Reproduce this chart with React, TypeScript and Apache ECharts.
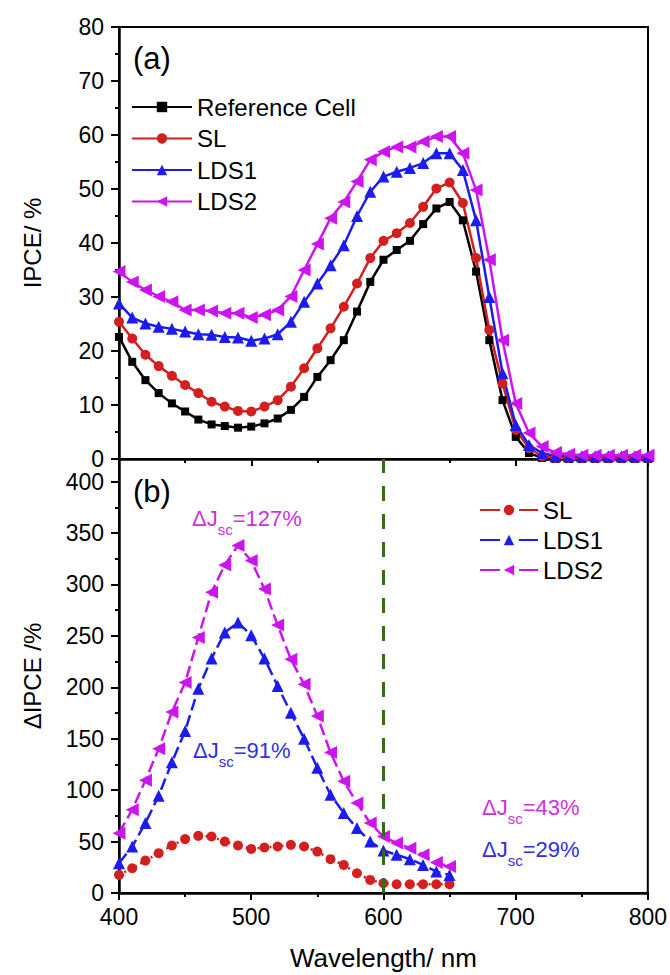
import React, { useEffect, useRef } from "react";
import * as echarts from "echarts";

const wlA = [400, 410, 420, 430, 440, 450, 460, 470, 480, 490, 500, 510, 520, 530, 540, 550, 560, 570, 580, 590, 600, 610, 620, 630, 640, 650, 660, 670, 680, 690, 700, 710, 720, 730, 740, 750, 760, 770, 780, 790, 800];
const refCell = [22.6, 18.0, 14.6, 12.2, 10.3, 8.8, 7.3, 6.4, 6.1, 5.8, 6.0, 6.6, 7.5, 9.1, 11.5, 15.2, 18.3, 22.0, 27.3, 32.8, 36.9, 38.7, 40.4, 43.5, 46.4, 47.6, 44.2, 34.7, 22.0, 10.9, 4.1, 1.1, 0.2, 0, 0, 0, 0, 0, 0, 0, 0];
const slA = [25.4, 22.3, 19.3, 17.2, 15.4, 13.7, 12.2, 10.6, 9.7, 8.9, 8.8, 9.7, 10.9, 13.4, 16.8, 20.5, 24.2, 28.2, 32.5, 37.2, 40.4, 41.8, 43.7, 46.7, 50.1, 51.2, 47.4, 37.2, 23.9, 14.0, 5.4, 2.0, 0.5, 0.2, 0.2, 0.2, 0.2, 0.2, 0.2, 0.2, 0.2];
const lds1A = [28.8, 26.2, 25.1, 24.5, 24.1, 23.6, 23.1, 23.0, 22.6, 22.5, 21.9, 22.3, 23.1, 25.4, 29.1, 32.5, 35.9, 39.6, 45.0, 49.5, 52.3, 53.2, 53.9, 54.8, 56.6, 56.6, 53.5, 44.2, 30.0, 15.9, 6.3, 2.6, 1.1, 0.5, 0.5, 0.5, 0.5, 0.5, 0.5, 0.5, 0.5];
const lds2A = [34.7, 32.8, 31.3, 30.1, 29.1, 27.6, 27.6, 27.4, 27.0, 27.0, 26.2, 26.7, 27.6, 30.1, 35.0, 39.8, 44.6, 47.6, 51.4, 55.4, 56.9, 57.8, 57.8, 58.8, 59.7, 59.7, 56.6, 49.8, 36.9, 22.0, 10.3, 4.8, 2.3, 1.2, 0.9, 0.7, 0.7, 0.7, 0.7, 0.7, 0.7];

const wlB = [400, 410, 420, 430, 440, 450, 460, 470, 480, 490, 500, 510, 520, 530, 540, 550, 560, 570, 580, 590, 600, 610, 620, 630, 640, 650];
const dSL = [17.6, 24.1, 31.5, 38.7, 46.2, 52.4, 55.6, 54.9, 50.0, 46.2, 42.9, 44.2, 45.2, 46.8, 45.2, 40.3, 32.9, 27.3, 19.2, 12.7, 9.5, 8.5, 8.5, 8.5, 8.5, 8.5];
const dLDS1 = [29.0, 45.2, 68.0, 94.6, 127.1, 157.4, 198.7, 228.0, 253.4, 263.1, 250.7, 228.0, 201.3, 175.3, 150.0, 121.7, 95.6, 77.8, 63.1, 50.0, 41.3, 37.1, 32.9, 27.3, 20.8, 17.6];
const dLDS2 = [58.2, 81.0, 109.6, 140.2, 175.9, 204.6, 248.5, 292.4, 319.0, 337.9, 323.2, 295.6, 260.5, 227.3, 202.9, 172.2, 136.6, 108.6, 87.5, 68.0, 54.9, 48.5, 43.6, 37.1, 29.6, 25.7];

const seriesNamesA = ["Reference Cell", "SL", "LDS1", "LDS2"];
const seriesNamesB = ["SL", "LDS1", "LDS2"];
const jscLabels = ["127%", "91%", "43%", "29%"];
const markWavelength = 600;

const FONT = "'Liberation Sans', Arial, sans-serif";
const C_BLACK = "#000000";
const C_RED = "#d21f1f";
const C_BLUE = "#1c1cf0";
const C_MAG = "#cc14ee";

const pair = (xs: number[], ys: number[]) => xs.map((x, i) => [x, ys[i]]);

function jscText(x: number, baseline: number, value: string, color: string) {
  return {
    type: "text",
    x,
    y: baseline - 19,
    silent: true,
    style: {
      text: `{m|ΔJ}{s|sc}{m|=${value}}`,
      verticalAlign: "top",
      align: "left",
      fill: color,
      rich: {
        m: { fontSize: 22, fontFamily: FONT, fill: color, lineHeight: 22, verticalAlign: "top" },
        s: { fontSize: 15, fontFamily: FONT, fill: color, lineHeight: 30, verticalAlign: "bottom" },
      },
    },
  };
}

export default function App() {
  const ref = useRef<HTMLDivElement>(null);
  useEffect(() => {
    if (!ref.current) return;
    const chart = echarts.init(ref.current, undefined, { renderer: "svg" });
    const axisLine = { show: true, lineStyle: { color: "#000", width: 2.5 } };
    const tickStyle = { color: "#000", width: 2 };
    const xAxisCommon = {
      type: "value",
      min: 400,
      max: 800,
      interval: 100,
      axisLine,
      axisTick: { show: true, inside: false, length: 7, lineStyle: tickStyle },
      minorTick: { show: true, splitNumber: 2, length: 4, lineStyle: tickStyle },
      splitLine: { show: false },
      minorSplitLine: { show: false },
    };
    const option: any = {
      animation: false,
      backgroundColor: "#ffffff",
      textStyle: { fontFamily: FONT },
      grid: [
        { left: 119, top: 27, width: 529, height: 432, show: true, borderColor: "#000", borderWidth: 2 },
        { left: 119, top: 459, width: 529, height: 434, show: true, borderColor: "#000", borderWidth: 2 },
      ],
      xAxis: [
        { ...xAxisCommon, gridIndex: 0, axisLabel: { show: false } },
        {
          ...xAxisCommon,
          gridIndex: 1,
          axisLabel: { show: true, fontSize: 23, color: "#000", fontFamily: FONT, margin: 12 },
          name: "Wavelength/ nm",
          nameLocation: "middle",
          nameGap: 52,
          nameTextStyle: { fontSize: 26, color: "#000", fontFamily: FONT },
        },
      ],
      yAxis: [
        {
          type: "value",
          gridIndex: 0,
          min: 0,
          max: 80,
          interval: 10,
          axisLine,
          axisTick: { show: true, inside: false, length: 8, lineStyle: tickStyle },
          minorTick: { show: true, splitNumber: 2, length: 4, lineStyle: tickStyle },
          splitLine: { show: false },
          axisLabel: { fontSize: 23, lineHeight: 18, color: "#000", fontFamily: FONT, margin: 15 },
          name: "IPCE/ %",
          nameLocation: "middle",
          nameGap: 75,
          nameTextStyle: { fontSize: 24, color: "#000", fontFamily: FONT },
        },
        {
          type: "value",
          gridIndex: 1,
          min: 0,
          max: 422,
          interval: 50,
          axisLine,
          axisTick: { show: true, inside: false, length: 8, lineStyle: tickStyle },
          minorTick: { show: true, splitNumber: 2, length: 4, lineStyle: tickStyle },
          splitLine: { show: false },
          axisLabel: {
            fontSize: 23,
            lineHeight: 18,
            color: "#000",
            fontFamily: FONT,
            margin: 15,
            showMaxLabel: false,
            formatter: (v: number) => (v % 50 === 0 ? String(v) : ""),
          },
          name: "ΔIPCE /%",
          nameLocation: "middle",
          nameGap: 75,
          nameTextStyle: { fontSize: 24, color: "#000", fontFamily: FONT },
        },
      ],
      legend: [
        {
          orient: "vertical",
          left: 131,
          top: 95,
          padding: 0,
          itemWidth: 60,
          itemHeight: 13,
          itemGap: 7.5,
          data: seriesNamesA,
          selectedMode: false,
          textStyle: { fontSize: 24, lineHeight: 24, color: "#000", fontFamily: FONT },
        },
        {
          orient: "vertical",
          left: 479,
          top: 498,
          padding: 0,
          itemWidth: 58,
          itemHeight: 13,
          itemGap: 6,
          selectedMode: false,
          data: seriesNamesB.map((n) => ({ name: n + " (b)", lineStyle: { type: [20, 19] } })),
          formatter: (n: string) => n.replace(" (b)", ""),
          textStyle: { fontSize: 24, lineHeight: 24, color: "#000", fontFamily: FONT },
        },
      ],
      series: [
        {
          name: seriesNamesA[0], type: "line", xAxisIndex: 0, yAxisIndex: 0,
          data: pair(wlA, refCell), symbol: "rect", symbolSize: 8,
          lineStyle: { color: C_BLACK, width: 2.5 }, itemStyle: { color: C_BLACK },
        },
        {
          name: seriesNamesA[1], type: "line", xAxisIndex: 0, yAxisIndex: 0,
          data: pair(wlA, slA), symbol: "circle", symbolSize: 10,
          lineStyle: { color: C_RED, width: 2.5 }, itemStyle: { color: C_RED },
        },
        {
          name: seriesNamesA[2], type: "line", xAxisIndex: 0, yAxisIndex: 0,
          data: pair(wlA, lds1A), symbol: "triangle", symbolSize: 12,
          lineStyle: { color: C_BLUE, width: 2.5 }, itemStyle: { color: C_BLUE },
        },
        {
          name: seriesNamesA[3], type: "line", xAxisIndex: 0, yAxisIndex: 0,
          data: pair(wlA, lds2A), symbol: "triangle", symbolRotate: 90, symbolSize: 13,
          lineStyle: { color: C_MAG, width: 2.5 }, itemStyle: { color: C_MAG },
        },
        {
          name: seriesNamesB[0] + " (b)", type: "line", xAxisIndex: 1, yAxisIndex: 1,
          data: pair(wlB, dSL), symbol: "circle", symbolSize: 10,
          lineStyle: { color: C_RED, width: 2.5, type: [2, 4] }, itemStyle: { color: C_RED },
          markLine: {
            silent: true, symbol: "none", label: { show: false },
            lineStyle: { color: "#2f6e12", width: 3, type: [15, 13] },
            data: [{ xAxis: markWavelength }],
          },
        },
        {
          name: seriesNamesB[1] + " (b)", type: "line", xAxisIndex: 1, yAxisIndex: 1,
          data: pair(wlB, dLDS1), symbol: "triangle", symbolSize: 12,
          lineStyle: { color: C_BLUE, width: 2.5, type: [12, 5] }, itemStyle: { color: C_BLUE },
        },
        {
          name: seriesNamesB[2] + " (b)", type: "line", xAxisIndex: 1, yAxisIndex: 1,
          data: pair(wlB, dLDS2), symbol: "triangle", symbolRotate: 90, symbolSize: 13,
          lineStyle: { color: C_MAG, width: 2.5, type: [12, 5] }, itemStyle: { color: C_MAG },
        },
      ],
      graphic: [
        { type: "text", x: 133, y: 58, silent: true, style: { text: "(a)", fontSize: 31, fontFamily: FONT, fill: "#000", verticalAlign: "middle" } },
        { type: "text", x: 133, y: 491, silent: true, style: { text: "(b)", fontSize: 31, fontFamily: FONT, fill: "#000", verticalAlign: "middle" } },
        jscText(192, 526, jscLabels[0], "#cc33dd"),
        jscText(193, 758, jscLabels[1], "#3030e0"),
        jscText(482, 815, jscLabels[2], "#cc33dd"),
        jscText(482, 857, jscLabels[3], "#3030e0"),
      ],
    };
    chart.setOption(option);
    return () => chart.dispose();
  }, []);
  return <div ref={ref} style={{ position: "absolute", left: 0, top: 0, width: 670, height: 975 }} />;
}
